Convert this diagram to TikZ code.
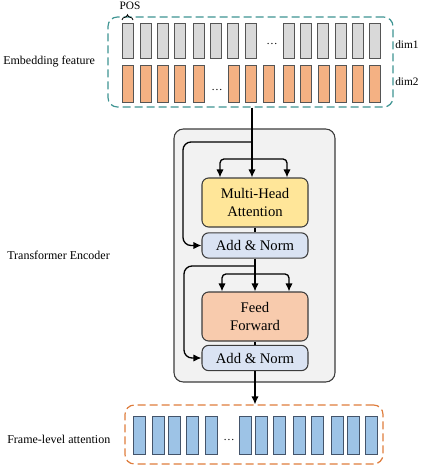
\documentclass[tikz,border=0pt]{standalone}
\usepackage{fontspec}
\setmainfont{Liberation Serif}
\usepackage{tikz}
\usetikzlibrary{arrows.meta}
\usetikzlibrary{decorations.pathreplacing}
\definecolor{tealdash}{RGB}{62,148,146}
\definecolor{orangedash}{RGB}{222,124,60}
\definecolor{barline}{RGB}{85,85,85}
\definecolor{grayfill}{RGB}{217,217,217}
\definecolor{orangefill}{RGB}{244,177,131}
\definecolor{bluefill}{RGB}{157,195,230}
\definecolor{blueline}{RGB}{68,84,106}
\definecolor{encfill}{RGB}{242,242,242}
\definecolor{encline}{RGB}{60,60,60}
\definecolor{mhafill}{RGB}{255,230,153}
\definecolor{fffill}{RGB}{248,203,173}
\definecolor{anfill}{RGB}{218,227,243}
\tikzset{>={Latex[length=6pt,width=5.5pt]}}
\tikzset{block/.style = {draw=encline,line width=0.8pt,rounded corners=5pt,minimum width=79.5pt,inner sep=0pt,align=center,font=\fontsize{11}{13}\selectfont}}
\tikzset{attn/.style = {block,fill=mhafill,minimum height=36.75pt}}
\tikzset{ffwd/.style = {block,fill=fffill,minimum height=36.75pt}}
\tikzset{addnorm/.style = {block,fill=anfill,minimum height=19pt}}
\tikzset{edge/.style = {->,line width=1pt}}
\tikzset{link/.style = {line width=1pt}}
\tikzset{sidelabel/.style = {anchor=west,inner sep=0pt,font=\fontsize{9}{11}\selectfont}}
\tikzset{smalllabel/.style = {inner sep=0pt,font=\fontsize{8.5}{10}\selectfont}}
\tikzset{graybar/.style = {draw=barline,fill=grayfill,line width=0.7pt}}
\tikzset{orangebar/.style = {draw=barline,fill=orangefill,line width=0.7pt}}
\tikzset{bluebar/.style = {draw=blueline,fill=bluefill,line width=0.7pt}}

\begin{document}
\begin{tikzpicture}[x=0.75pt,y=-0.75pt]
            \useasboundingbox (0,0) rectangle (427,471);

            % Frames
            \node[draw=tealdash,dash pattern=on 6pt off 3pt,line width=0.9pt,rounded corners=7pt,minimum width=213.75pt,minimum height=67.5pt] (emb) at (250.5,62) {};
            \node[draw=encline,fill=encfill,line width=0.8pt,rounded corners=7pt,minimum width=120.75pt,minimum height=189.75pt] (enc) at (254.5,255.5) {};
            \node[draw=orangedash,dash pattern=on 6pt off 3pt,line width=0.9pt,rounded corners=7pt,minimum width=193.5pt,minimum height=44.25pt] (frame) at (254,434.5) {};

            % Bars
            \foreach \x in {122,140,157,174,193,210,227,245,283,300,317,335,352,369}
                \draw[graybar] (\x,23) rectangle ++(11,35);
            \foreach \x in {122,140,157,174,193,228,245,263,283,300,318,335,352,369}
                \draw[orangebar] (\x,65) rectangle ++(11,37);
            \foreach \x in {133,152,168,186,205,239,255,273,293,311,331,347,365}
                \draw[bluebar] (\x,416) rectangle ++(12.5,38);
            \node[smalllabel] (dots1) at (272,44) {\dots};
            \node[smalllabel] (dots2) at (217,90) {\dots};
            \node[smalllabel] (dots3) at (229,440) {\dots};

            % Labels
            \node[sidelabel] (embname) at (3,62) {Embedding feature};
            \node[sidelabel] (encname) at (7,255) {Transformer Encoder};
            \node[sidelabel] (framename) at (7,439) {Frame-level attention};
            \node[smalllabel,anchor=west] (dim1) at (395,45) {dim1};
            \node[smalllabel,anchor=west] (dim2) at (395,82) {dim2};
            \node[smalllabel] (pos) at (130,6) {POS};
            \draw[decorate,decoration={brace,amplitude=4pt},line width=0.6pt] (122,20) -- (133,20);

            % Blocks
            \node[attn] (mha) at (255,202.5) {Multi-Head\\Attention};
            \node[addnorm] (an1) at (255,245.5) {Add \& Norm};
            \node[ffwd] (ff) at (255,316.5) {Feed\\Forward};
            \node[addnorm] (an2) at (255,358) {Add \& Norm};

            \coordinate (split1) at (252,142);
            \coordinate (res1) at (183,142);
            \coordinate (fork1) at (252,159);
            \coordinate (q1) at (220,159);
            \coordinate (k1) at (287,159);
            \coordinate (split2) at (255,266);
            \coordinate (res2) at (184,266);
            \coordinate (fork2) at (255,274);
            \coordinate (q2) at (222,274);
            \coordinate (k2) at (289,274);

            % Edges
            % attention
            \draw[link] (emb.south -| fork1) -- (fork1);
            \draw[edge] (fork1) -- (fork1 |- mha.north);
            \draw[edge,rounded corners=3pt] (fork1) -| (q1 |- mha.north);
            \draw[edge,rounded corners=3pt] (fork1) -| (k1 |- mha.north);
            \draw[edge,rounded corners=6pt] (split1) -- (res1) |- (an1.west);
            \draw[link] (mha) -- (an1);

            % feed forward
            \draw[link] (an1) -- (fork2);
            \draw[edge] (fork2) -- (fork2 |- ff.north);
            \draw[edge,rounded corners=3pt] (fork2) -| (q2 |- ff.north);
            \draw[edge,rounded corners=3pt] (fork2) -| (k2 |- ff.north);
            \draw[edge,rounded corners=6pt] (split2) -- (res2) |- (an2.west);
            \draw[link] (ff) -- (an2);

            % output
            \draw[edge] (an2.south) -- (an2.south |- frame.north);

        \end{tikzpicture}
\end{document}
